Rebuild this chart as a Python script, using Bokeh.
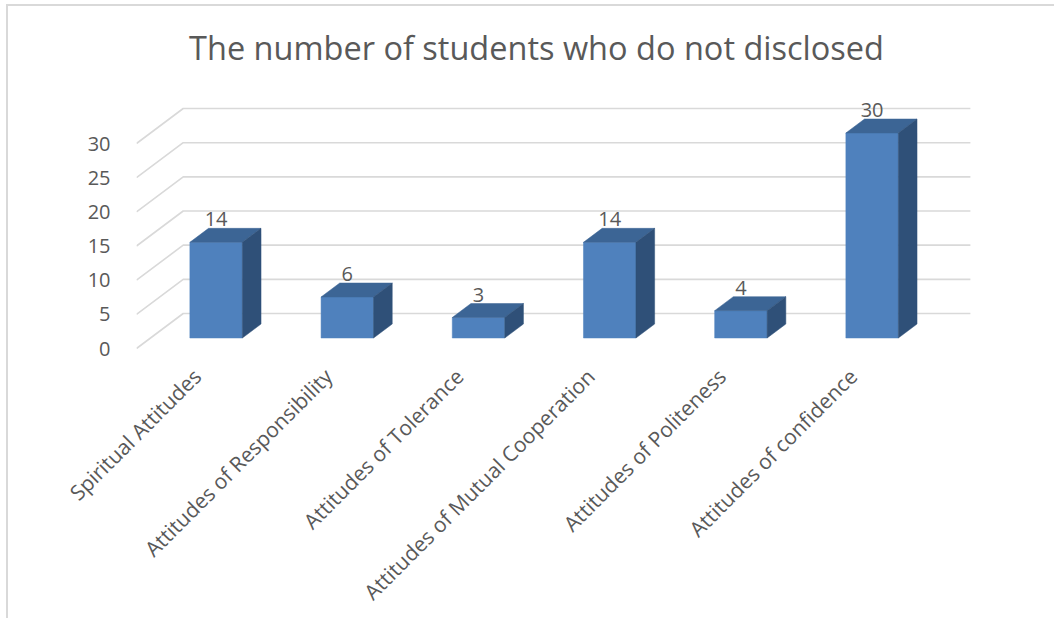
import math
from bokeh.plotting import figure
from bokeh.models import Range1d, FixedTicker, Label, CustomJSTickFormatter
from bokeh.embed import file_html
from bokeh.resources import INLINE

# ---------------- data ----------------
chart_title = "The number of students who do not disclosed"
categories = [
    "Spiritual Attitudes",
    "Attitudes of Responsibility",
    "Attitudes of Tolerance",
    "Attitudes of Mutual Cooperation",
    "Attitudes of Politeness",
    "Attitudes of confidence",
]
counts = [14, 6, 3, 14, 4, 30]
y_ticks = [0, 5, 10, 15, 20, 25, 30]

# ---------------- style / projection ----------------
PX_X = 131.2      # pixels per category
PX_Y = 6.833      # pixels per unit value
FRAME_W, FRAME_H = 840, 344
DX = 46.7 / PX_X  # depth shift (category units)
DY = 35.0 / PX_Y  # depth shift (value units)
BAR_W = 0.4
D0, D1 = 0.3, 0.7  # bar depth extent (fraction of floor depth)
TXT = "#595959"
GRID = "#d9d9d9"
FRONT, TOP, SIDE = "#4f81bd", "#3c6595", "#2f5078"
FONT = "Open Sans"
LABEL_SHIFT = -5 / PX_X

x0 = -0.5
y0 = -2 / PX_Y
p = figure(
    frame_width=FRAME_W, frame_height=FRAME_H,
    x_range=Range1d(x0, x0 + FRAME_W / PX_X),
    y_range=Range1d(y0, y0 + FRAME_H / PX_Y),
    output_backend="svg", toolbar_location=None,
    min_border_left=128, min_border_right=78,
    min_border_top=0, min_border_bottom=266,
    margin=(4, 0, 0, 6),
)
p.styles = {
    "border-left": "2px solid #d9d9d9", "border-top": "2px solid #d9d9d9",
    "border-right": "none", "border-bottom": "none",
    "outline": "none", "box-shadow": "none", "overflow": "hidden",
}
p.outline_line_color = None
p.xgrid.visible = False
p.ygrid.visible = False
p.background_fill_color = "white"
p.border_fill_color = "white"

# ---------------- 3D grid (side wall diagonals + back wall) ----------------
n = len(categories)
left = x0
right = x0 + n
xs, ys = [], []
for v in y_ticks:
    xs.append([left, left + DX, right + DX])
    ys.append([v, v + DY, v + DY])
p.multi_line(xs, ys, line_color=GRID, line_width=1.6)

# ---------------- bars ----------------
idx = list(range(n))
cx = [i + D0 * DX for i in idx]
bot = D0 * DY
p.vbar(x=cx, width=BAR_W, bottom=bot, top=[c + D0 * DY for c in counts],
       fill_color=FRONT, line_color=FRONT, line_width=0.5)

top_x, top_y, side_x, side_y = [], [], [], []
dd = (D1 - D0)
for i, c in zip(idx, counts):
    xl = i + D0 * DX - BAR_W / 2
    xr = i + D0 * DX + BAR_W / 2
    yf = c + D0 * DY
    yb = c + D1 * DY
    top_x.append([xl, xr, xr + dd * DX, xl + dd * DX])
    top_y.append([yf, yf, yb, yb])
    side_x.append([xr, xr, xr + dd * DX, xr + dd * DX])
    side_y.append([D0 * DY, yf, yb, D1 * DY])
p.patches(top_x, top_y, fill_color=TOP, line_color=TOP, line_width=0.5)
p.patches(side_x, side_y, fill_color=SIDE, line_color=SIDE, line_width=0.5)

# ---------------- data labels ----------------
p.text(x=cx, y=[c + D1 * DY for c in counts], text=[str(c) for c in counts],
       text_align="center", text_baseline="bottom", y_offset=-2,
       text_font_size="20px", text_color=TXT, text_font={"value": FONT})

# ---------------- axes ----------------
p.yaxis.ticker = FixedTicker(ticks=y_ticks)
p.yaxis.axis_line_color = None
p.yaxis.major_tick_line_color = None
p.yaxis.minor_tick_line_color = None
p.yaxis.major_label_standoff = 20
p.yaxis.major_label_text_font_size = "20px"
p.yaxis.major_label_text_color = TXT
p.yaxis.major_label_text_font = FONT

p.xaxis.ticker = FixedTicker(ticks=[i + LABEL_SHIFT for i in idx])
p.xaxis.formatter = CustomJSTickFormatter(
    args=dict(labels=categories), code="return labels[Math.round(tick)]")
p.xaxis.axis_line_color = None
p.xaxis.major_tick_line_color = None
p.xaxis.minor_tick_line_color = None
p.xaxis.major_label_orientation = math.pi / 4
p.xaxis.major_label_standoff = 16
p.xaxis.major_label_text_font_size = "21px"
p.xaxis.major_label_text_color = TXT
p.xaxis.major_label_text_font = FONT

# ---------------- title (inside the frame's upper band) ----------------
p.add_layout(Label(
    x=x0 + (536 - 136) / PX_X, y=(348 - 47) / PX_Y, text=chart_title,
    text_align="center", text_baseline="middle",
    text_font_size="32.5px", text_color=TXT, text_font=FONT,
))

open("out.html", "w").write(file_html(p, INLINE))
